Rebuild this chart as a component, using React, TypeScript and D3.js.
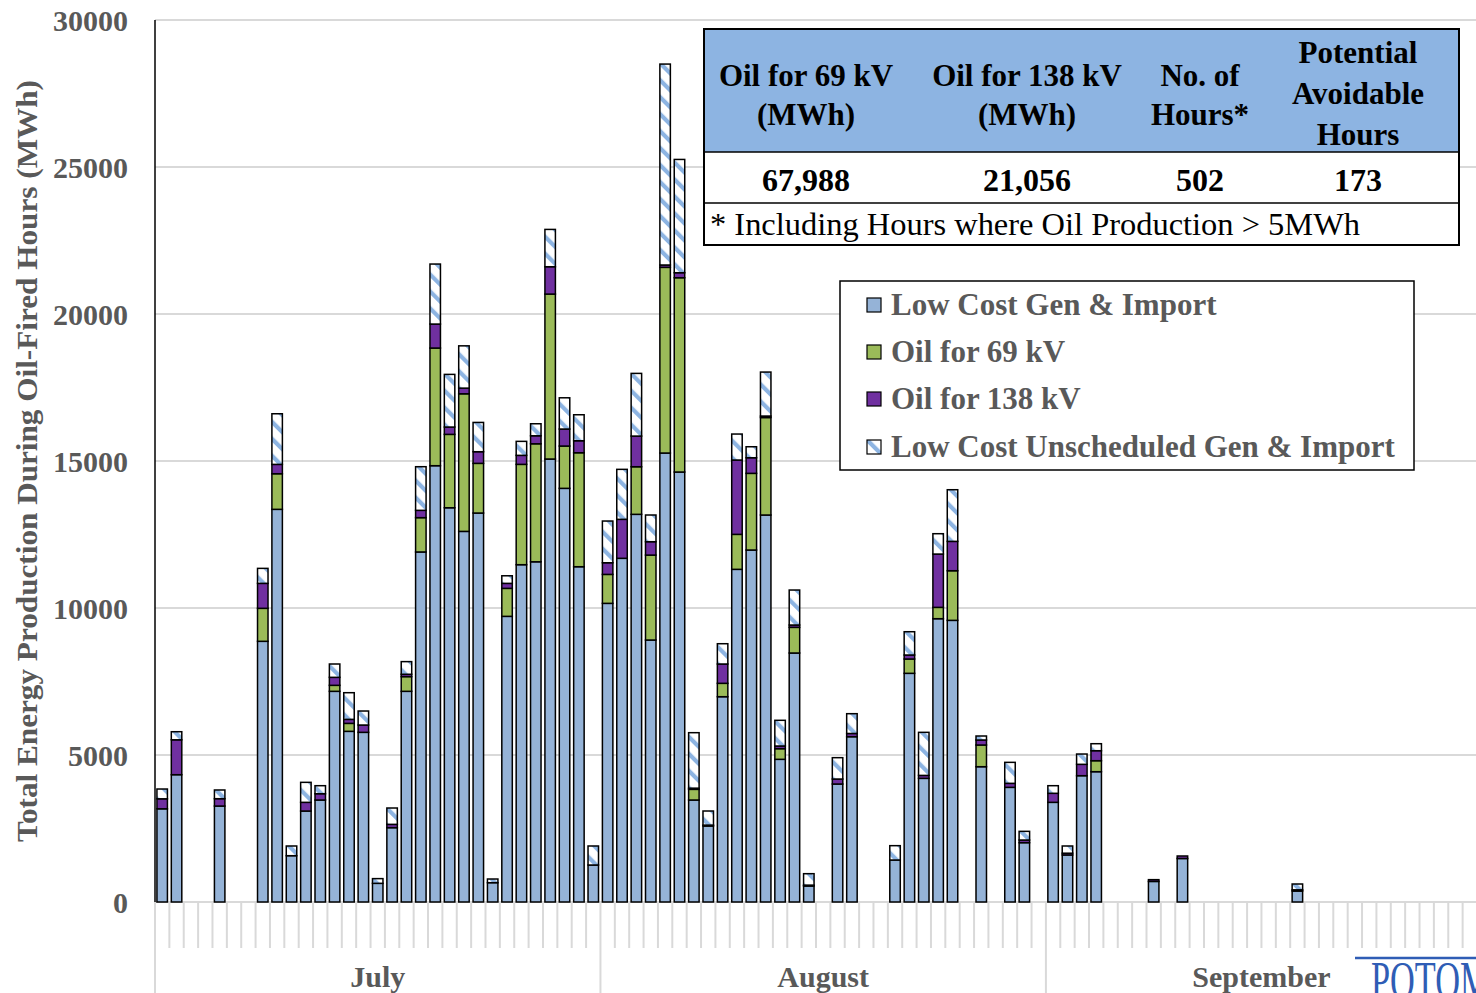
import React, { useEffect } from 'react';
import * as d3 from 'd3';

// ---------- DATA ----------
const monthNames = ['July', 'August', 'September'];
const monthDays = [31, 31, 30];

// MWh per day, July 1 .. Sept 30 (92 days)
const lowCost = [
  3170, 4330, 0, 0, 3264, 0, 0, 8867, 13356, 1575, 3094, 3469, 7166, 5805, 5771, 635,
  2528, 7166, 11906, 14840, 13410, 12606, 13230, 657, 9716, 11473, 11572, 15067, 14070, 11404, 1258,
  10158, 11690, 13186, 8911, 15271, 14625, 3469, 2585, 6983, 11315, 11972, 13163, 4853, 8469, 544,
  0, 4013, 5622, 0, 0, 1428, 7778, 4206, 9636, 9580, 0, 4602, 0, 3900, 2018, 0,
  3390, 1600, 4296, 4432, 0, 0, 0, 700, 0, 1480, 0, 0, 0, 0, 0, 0, 0, 374,
  0, 0, 0, 0, 0, 0, 0, 0, 0, 0, 0, 0,
];
const oil69 = [
  0, 0, 0, 0, 0, 0, 0, 1122, 1211, 0, 0, 0, 204, 271, 0, 0,
  0, 500, 1167, 4002, 2496, 4680, 1690, 0, 952, 3413, 4014, 5611, 1439, 3877, 0,
  985, 0, 1619, 2889, 6316, 6609, 363, 0, 455, 1190, 2608, 3316, 362, 873, 0,
  0, 0, 0, 0, 0, 0, 487, 0, 386, 1688, 0, 738, 0, 0, 0, 0,
  0, 0, 0, 374, 0, 0, 0, 0, 0, 0, 0, 0, 0, 0, 0, 0, 0, 0,
  0, 0, 0, 0, 0, 0, 0, 0, 0, 0, 0, 0,
];
const oil138 = [
  340, 1187, 0, 0, 250, 0, 0, 849, 318, 0, 296, 214, 272, 136, 249, 0,
  113, 80, 249, 816, 249, 193, 396, 0, 170, 306, 272, 930, 578, 408, 0,
  396, 1326, 1043, 455, 80, 170, 40, 30, 657, 2528, 531, 50, 91, 79, 30,
  0, 170, 110, 0, 0, 0, 136, 100, 1813, 998, 0, 170, 0, 136, 90, 0,
  307, 60, 387, 340, 0, 0, 0, 60, 0, 85, 0, 0, 0, 0, 0, 0, 0, 40,
  0, 0, 0, 0, 0, 0, 0, 0, 0, 0, 0, 0,
];
const unsched = [
  333, 275, 0, 0, 296, 0, 0, 510, 1722, 330, 680, 273, 453, 907, 476, 160,
  556, 430, 1484, 2041, 1791, 1438, 996, 125, 258, 476, 409, 1269, 1063, 884, 647,
  1419, 1700, 2132, 908, 6834, 3853, 1887, 480, 690, 884, 374, 1496, 874, 1190, 389,
  0, 726, 673, 0, 0, 488, 792, 1465, 692, 1757, 0, 136, 0, 714, 295, 0,
  259, 245, 350, 238, 0, 0, 0, 0, 0, 0, 0, 0, 0, 0, 0, 0, 0, 198,
  0, 0, 0, 0, 0, 0, 0, 0, 0, 0, 0, 0,
];

const seriesKeys = ['lowCost', 'oil69', 'oil138', 'unsched'];
const seriesNames = ['Low Cost Gen & Import', 'Oil for 69 kV', 'Oil for 138 kV', 'Low Cost Unscheduled Gen & Import'];
const seriesFills = ['#95B3D7', '#9BBB59', '#7030A0', 'url(#unschPat)'];

const yTicks = [0, 5000, 10000, 15000, 20000, 25000, 30000];

const tableHeaders = [['Oil for 69 kV', '(MWh)'], ['Oil for 138 kV', '(MWh)'], ['No. of', 'Hours*'], ['Potential', 'Avoidable', 'Hours']];
const tableValues = ['67,988', '21,056', '502', '173'];
const tableNote = '* Including Hours where Oil Production > 5MWh';

// ---------- CHART ----------
const FONT = "'Liberation Serif','Times New Roman',serif";
const GRAY = '#595959';

export default function App() {
  useEffect(() => {
    document.body.style.margin = '0';
  }, []);

  const W = 1476, H = 993;
  const plotL = 155, plotR = 1477, plotT = 20, plotB = 902;

  const dayLabels: string[] = [];
  monthNames.forEach((m, mi) => {
    for (let d = 1; d <= monthDays[mi]; d++) dayLabels.push(`${m} ${d}`);
  });

  const x = d3.scaleBand<string>().domain(dayLabels).range([plotL, plotR]).paddingInner(0.27).paddingOuter(0.135);
  const y = d3.scaleLinear().domain([0, 30000]).range([plotB, plotT]);
  const step = x.step();

  const rows = dayLabels.map((lab, i) => ({
    lab,
    lowCost: lowCost[i],
    oil69: oil69[i],
    oil138: oil138[i],
    unsched: unsched[i],
  }));
  const stacked = d3.stack<any>().keys(seriesKeys)(rows);

  const monthStarts: number[] = [];
  let acc = 0;
  monthDays.forEach((n) => {
    monthStarts.push(acc);
    acc += n;
  });

  const tableL = 704, tableR = 1459, tableT = 29, headB = 152, valB = 203, tableB = 245;
  const colCenters = [806, 1027, 1200, 1358];
  const headerBaselines2 = [86, 125];
  const headerBaselines3 = [63, 104, 145];

  const legL = 840, legT = 281, legR = 1414, legB = 470;
  const legRows = [305, 352, 399, 447];

  return (
    <svg width={W} height={H} style={{ position: 'absolute', left: 0, top: 0, display: 'block', background: '#fff' }} fontFamily={FONT}>
      <defs>
        <pattern id="unschPat" patternUnits="userSpaceOnUse" width={12} height={12} patternTransform="rotate(-45)">
          <rect width={12} height={12} fill="#ffffff" />
          <rect x={0} y={0} width={4.2} height={12} fill="#8DB4E2" />
        </pattern>
      </defs>

      {yTicks.filter((t) => t > 0).map((t) => (
        <line key={t} x1={plotL} x2={W} y1={y(t)} y2={y(t)} stroke="#D9D9D9" strokeWidth={2} />
      ))}
      <line x1={plotL} x2={W} y1={plotB} y2={plotB} stroke="#D9D9D9" strokeWidth={2} />

      {d3.range(dayLabels.length + 1).map((i) => {
        const xx = plotL + i * step;
        const isMonth = monthStarts.includes(i);
        return (
          <line key={i} x1={xx} x2={xx} y1={plotB} y2={isMonth ? H : 948} stroke="#D9D9D9" strokeWidth={2} />
        );
      })}

      <line x1={plotL} x2={plotL} y1={plotT} y2={plotB} stroke="#000" strokeWidth={1.5} />

      {stacked.map((layer, li) => (
        <g key={layer.key as string}>
          {layer.map((d: any, i: number) => {
            const v = d[1] - d[0];
            if (!(v > 0)) return null;
            return (
              <rect
                key={i}
                x={x(dayLabels[i])}
                width={x.bandwidth()}
                y={y(d[1])}
                height={y(d[0]) - y(d[1])}
                fill={seriesFills[li]}
                stroke="#000"
                strokeWidth={1.5}
              />
            );
          })}
        </g>
      ))}

      {yTicks.map((t) => (
        <text key={t} x={128} y={y(t)} dy="0.35em" textAnchor="end" fontSize={30} fontWeight="bold" fill={GRAY}>
          {t}
        </text>
      ))}

      <text
        transform={`translate(37, 461) rotate(-90)`}
        textAnchor="middle"
        fontSize={30}
        fontWeight="bold"
        fill={GRAY}
        textLength={762}
        lengthAdjust="spacingAndGlyphs"
      >
        Total Energy Production During Oil-Fired Hours (MWh)
      </text>

      {monthNames.map((m, mi) => (
        <text
          key={m}
          x={plotL + (monthStarts[mi] + monthDays[mi] / 2) * step}
          y={987}
          textAnchor="middle"
          fontSize={30}
          fontWeight="bold"
          fill={GRAY}
        >
          {m}
        </text>
      ))}

      <rect x={tableL} y={tableT} width={tableR - tableL} height={headB - tableT} fill="#8DB4E2" />
      <rect x={tableL} y={headB} width={tableR - tableL} height={tableB - headB} fill="#fff" />
      <line x1={tableL} x2={tableR} y1={headB} y2={headB} stroke="#000" strokeWidth={1.5} />
      <line x1={tableL} x2={tableR} y1={valB} y2={valB} stroke="#000" strokeWidth={1.5} />
      <rect x={tableL} y={tableT} width={tableR - tableL} height={tableB - tableT} fill="none" stroke="#000" strokeWidth={2} />
      {tableHeaders.map((lines, ci) =>
        lines.map((ln, li) => (
          <text
            key={ci + '-' + li}
            x={colCenters[ci]}
            y={lines.length === 3 ? headerBaselines3[li] : headerBaselines2[li]}
            textAnchor="middle"
            fontSize={31}
            fontWeight="bold"
            fill="#000"
          >
            {ln}
          </text>
        ))
      )}
      {tableValues.map((v, ci) => (
        <text key={v} x={colCenters[ci]} y={191} textAnchor="middle" fontSize={32} fontWeight="bold" fill="#000">
          {v}
        </text>
      ))}
      <text x={710} y={235} fontSize={31} fill="#000" textLength={650} lengthAdjust="spacingAndGlyphs">
        {tableNote}
      </text>

      <rect x={legL} y={legT} width={legR - legL} height={legB - legT} fill="#fff" stroke="#000" strokeWidth={1.5} />
      {seriesNames.map((nm, i) => (
        <g key={nm}>
          <rect x={867} y={legRows[i] - 7} width={14} height={14} fill={seriesFills[i]} stroke="#000" strokeWidth={1.2} />
          <text x={891} y={legRows[i] + 10} fontSize={31} fontWeight="bold" fill={GRAY}>
            {nm}
          </text>
        </g>
      ))}

      <line x1={1355} x2={W} y1={958} y2={958} stroke="#2F5DB5" strokeWidth={2.5} />
      <text transform="translate(1371, 998) scale(0.66, 1)" fontSize={52} fill="#2F5DB5">
        POTOMAC
      </text>
    </svg>
  );
}
